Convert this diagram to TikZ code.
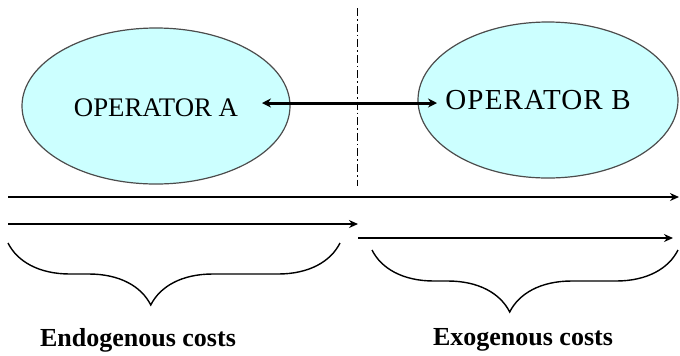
\documentclass[tikz,border=0pt]{standalone}
\usepackage{fontspec}
\setmainfont{Liberation Serif}
\newfontfamily\opfont{Liberation Serif}
\newfontfamily\opwidefont[LetterSpace=4]{Liberation Serif}
\usepackage{tikz}
\usetikzlibrary{arrows.meta}
\usetikzlibrary{decorations.pathreplacing}

\definecolor{opfill}{RGB}{204,255,255}

\begin{document}
\begin{tikzpicture}[x=0.5pt,y=-0.5pt,
    optext/.style={font=\opfont\fontsize{13.4}{16}\selectfont},
    costtext/.style={font=\opfont\fontsize{13}{16}\selectfont\bfseries},
    costarrow/.style={line width=1pt,-{Stealth[length=4.5pt,width=4pt]}},
    costbrace/.style={decorate,line width=0.7pt}]
    \useasboundingbox (0,0) rectangle (680,355);

    \filldraw[fill=opfill, draw=black!70, line width=0.6pt] (156,106) ellipse (67pt and 39pt);
    \filldraw[fill=opfill, draw=black!70, line width=0.6pt] (548,100) ellipse (65pt and 39pt);

        \node[optext] (opA) at (156,108) {OPERATOR A};
        \node[optext, font=\opwidefont\fontsize{14.5}{17}\selectfont] (opB) at (538,100) {OPERATOR B};

        % dash-dot border between the two operators
        \coordinate (sepT) at (357,8);
        \coordinate (sepB) at (357,186);
        \draw[line width=0.5pt, dash pattern=on 4pt off 1.5pt on 0.8pt off 1.5pt] (sepT) -- (sepB);

        % link between the operators
        \coordinate (la) at (262,103);
        \coordinate (lb) at (437,103);
        \draw[line width=1.5pt, {Stealth[length=4.5pt,width=4.5pt]}-{Stealth[length=4.5pt,width=4.5pt]}] (la) -- (lb);

        % draw the arrows
        \coordinate (t0) at (8,197);
        \coordinate (t1) at (679,197);
        \coordinate (e0) at (8,224);
        \coordinate (e1) at (358,224);
        \coordinate (x0) at (358,238);
        \coordinate (x1) at (673,238);
        \draw[costarrow] (t0) -- (t1);
        \draw[costarrow] (e0) -- (e1);
        \draw[costarrow, line width=0.8pt] (x0) -- (x1);

        % braces and labels
        \draw[costbrace, decoration={brace, mirror, amplitude=31pt, aspect=0.43}] (8,243) -- (340,243);
        \draw[costbrace, decoration={brace, mirror, amplitude=31pt, aspect=0.45}] (372,250) -- (678,250);

        \node[costtext] (endo) at (138,340) {Endogenous costs};
        \node[costtext] (exo) at (523,340) {Exogenous costs};

    \end{tikzpicture}
\end{document}
